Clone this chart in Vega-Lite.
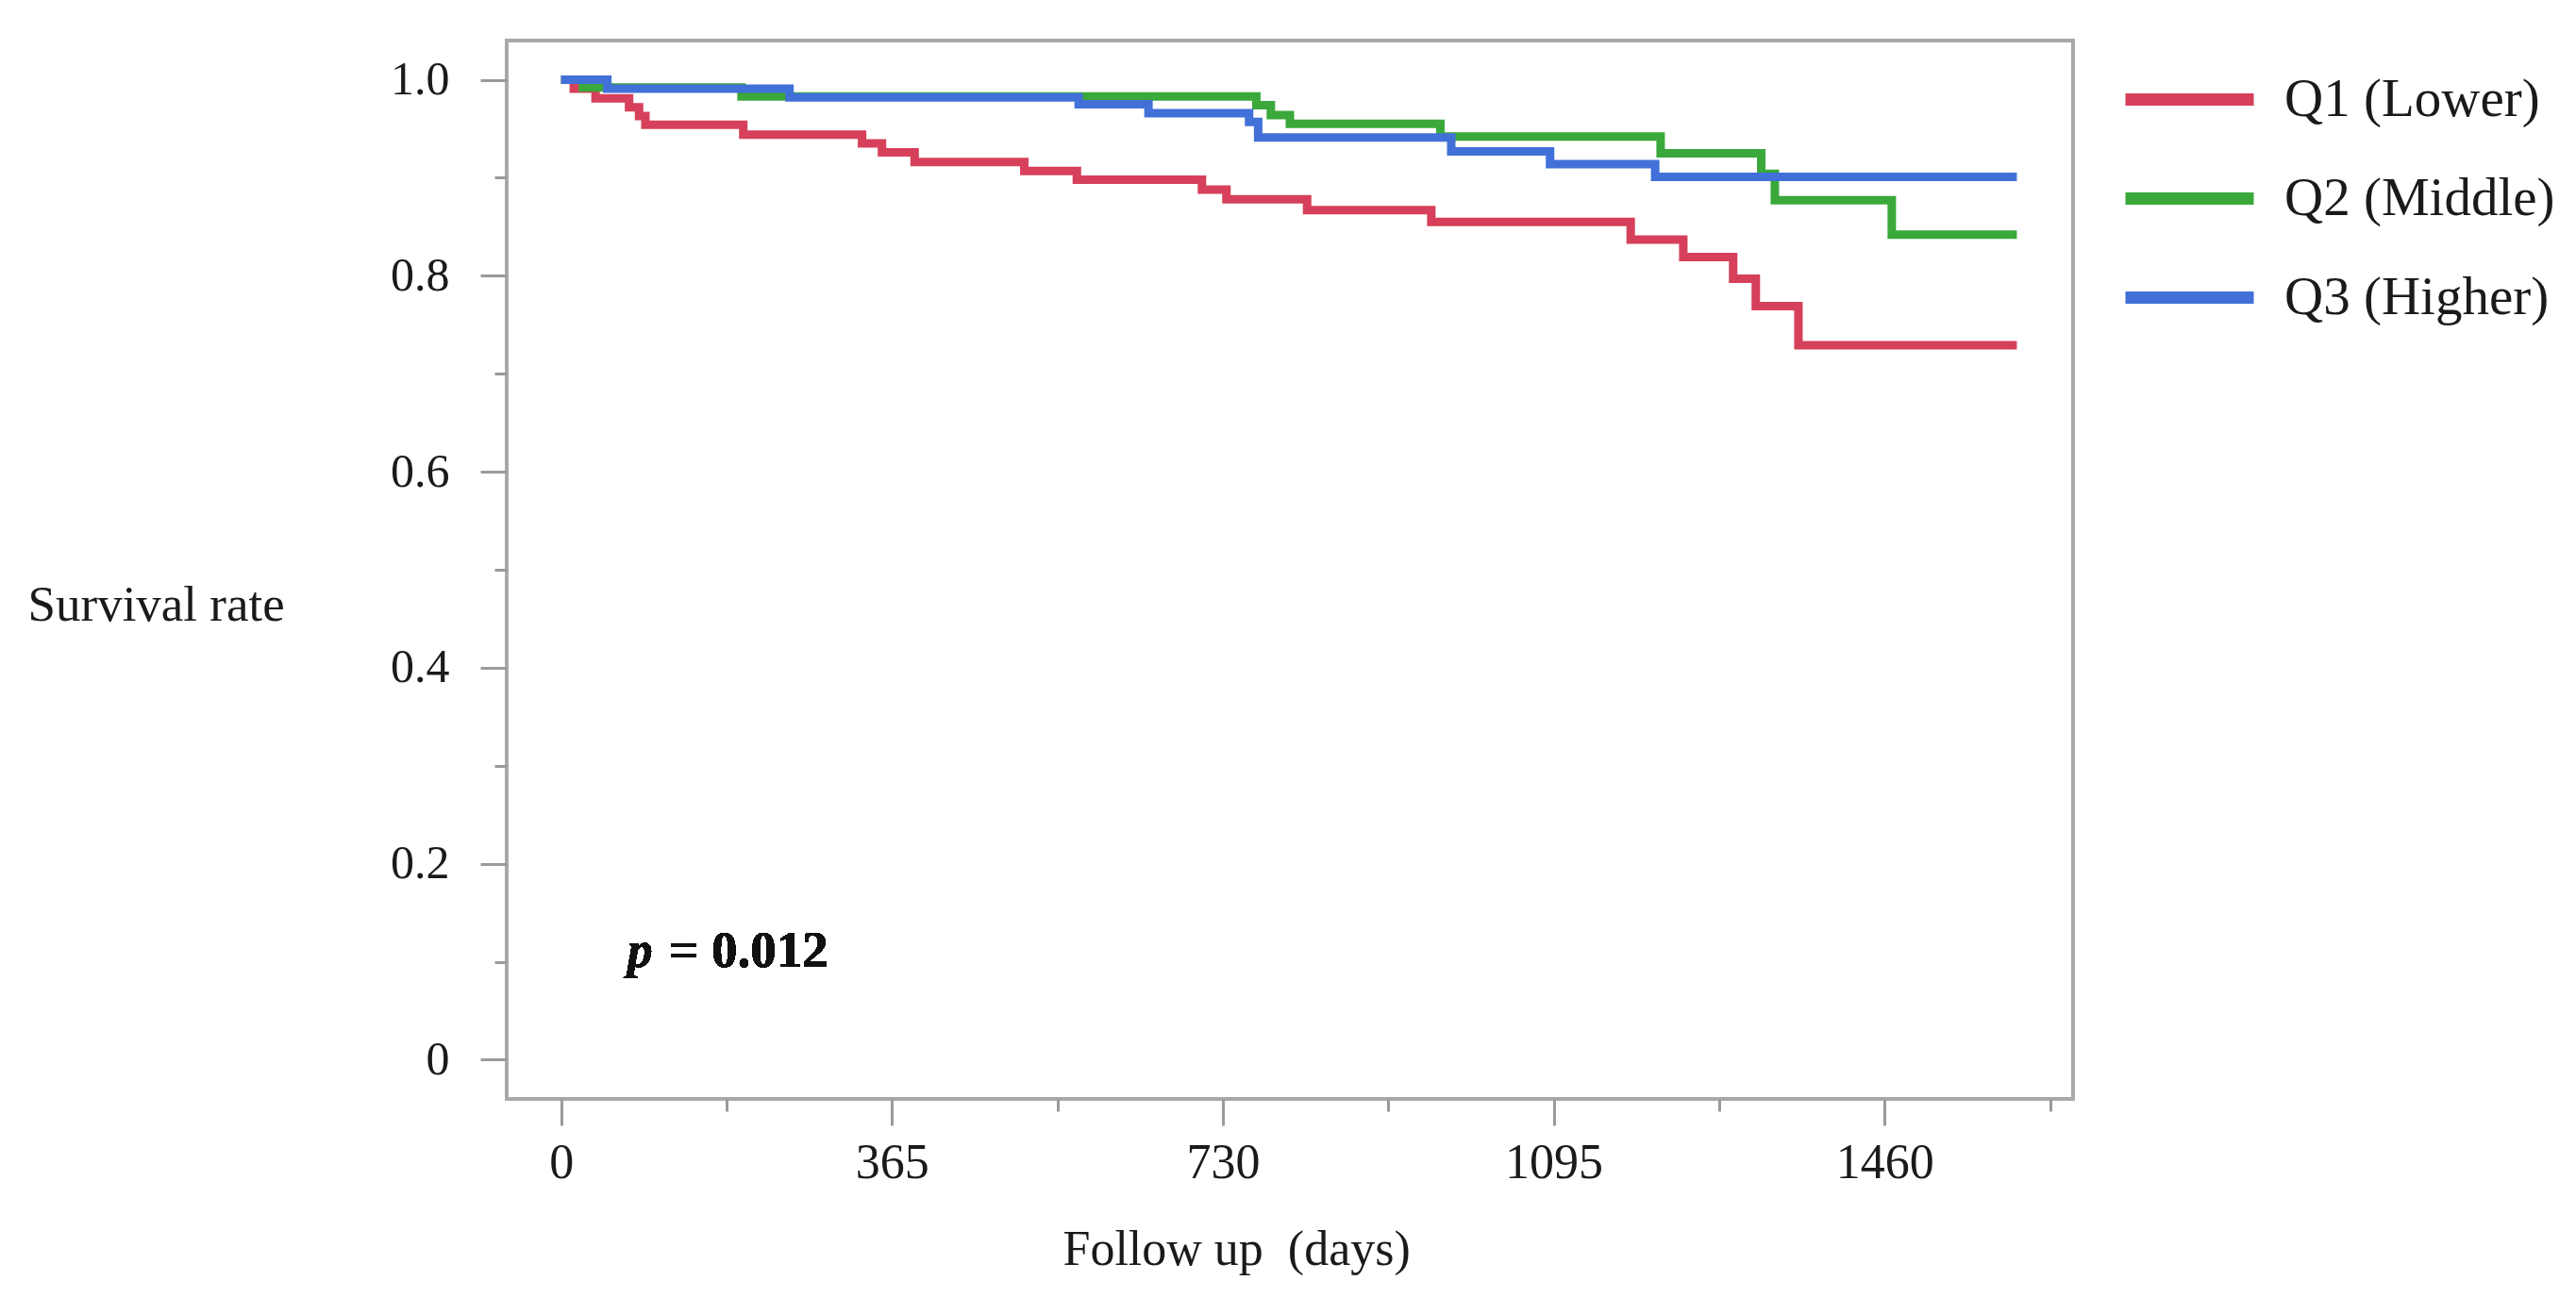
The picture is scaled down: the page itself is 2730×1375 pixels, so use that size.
{
  "$schema": "https://vega.github.io/schema/vega-lite/v6.json",
  "width": 1660,
  "height": 1122,
  "autosize": {"type": "none"},
  "padding": {"left": 537, "top": 43, "right": 533, "bottom": 210},
  "background": "white",
  "config": {
    "view": {"stroke": "#a8a8a8", "strokeWidth": 4},
    "font": "Liberation Serif"
  },
  "data": {
    "values": [
      {"group": "Q1 (Lower)", "day": 0, "surv": 1.0},
      {"group": "Q1 (Lower)", "day": 14, "surv": 0.991},
      {"group": "Q1 (Lower)", "day": 38, "surv": 0.981},
      {"group": "Q1 (Lower)", "day": 75, "surv": 0.972},
      {"group": "Q1 (Lower)", "day": 86, "surv": 0.963},
      {"group": "Q1 (Lower)", "day": 93, "surv": 0.954},
      {"group": "Q1 (Lower)", "day": 201, "surv": 0.944},
      {"group": "Q1 (Lower)", "day": 332, "surv": 0.935},
      {"group": "Q1 (Lower)", "day": 354, "surv": 0.926},
      {"group": "Q1 (Lower)", "day": 390, "surv": 0.916},
      {"group": "Q1 (Lower)", "day": 511, "surv": 0.907},
      {"group": "Q1 (Lower)", "day": 569, "surv": 0.898},
      {"group": "Q1 (Lower)", "day": 707, "surv": 0.888},
      {"group": "Q1 (Lower)", "day": 734, "surv": 0.878},
      {"group": "Q1 (Lower)", "day": 823, "surv": 0.867},
      {"group": "Q1 (Lower)", "day": 960, "surv": 0.855},
      {"group": "Q1 (Lower)", "day": 1180, "surv": 0.837},
      {"group": "Q1 (Lower)", "day": 1238, "surv": 0.819},
      {"group": "Q1 (Lower)", "day": 1293, "surv": 0.797},
      {"group": "Q1 (Lower)", "day": 1318, "surv": 0.769},
      {"group": "Q1 (Lower)", "day": 1365, "surv": 0.729},
      {"group": "Q1 (Lower)", "day": 1606, "surv": 0.729},
      {"group": "Q2 (Middle)", "day": 0, "surv": 1.0},
      {"group": "Q2 (Middle)", "day": 24, "surv": 0.992},
      {"group": "Q2 (Middle)", "day": 199, "surv": 0.983},
      {"group": "Q2 (Middle)", "day": 767, "surv": 0.974},
      {"group": "Q2 (Middle)", "day": 783, "surv": 0.964},
      {"group": "Q2 (Middle)", "day": 804, "surv": 0.955},
      {"group": "Q2 (Middle)", "day": 970, "surv": 0.942},
      {"group": "Q2 (Middle)", "day": 1213, "surv": 0.925},
      {"group": "Q2 (Middle)", "day": 1324, "surv": 0.904},
      {"group": "Q2 (Middle)", "day": 1339, "surv": 0.877},
      {"group": "Q2 (Middle)", "day": 1468, "surv": 0.842},
      {"group": "Q2 (Middle)", "day": 1606, "surv": 0.842},
      {"group": "Q3 (Higher)", "day": 0, "surv": 1.0},
      {"group": "Q3 (Higher)", "day": 51, "surv": 0.991},
      {"group": "Q3 (Higher)", "day": 252, "surv": 0.982},
      {"group": "Q3 (Higher)", "day": 571, "surv": 0.975},
      {"group": "Q3 (Higher)", "day": 648, "surv": 0.966},
      {"group": "Q3 (Higher)", "day": 759, "surv": 0.957},
      {"group": "Q3 (Higher)", "day": 769, "surv": 0.941},
      {"group": "Q3 (Higher)", "day": 982, "surv": 0.927},
      {"group": "Q3 (Higher)", "day": 1091, "surv": 0.914},
      {"group": "Q3 (Higher)", "day": 1207, "surv": 0.901},
      {"group": "Q3 (Higher)", "day": 1606, "surv": 0.901}
    ]
  },
  "layer": [
    {
      "mark": {"type": "line", "interpolate": "step-after", "strokeWidth": 9, "strokeCap": "butt"},
      "encoding": {
        "x": {
          "field": "day",
          "type": "quantitative",
          "scale": {"domain": [-60, 1668], "nice": false, "zero": false},
          "axis": {
            "title": "Follow up\u00a0 (days)",
            "titleFont": "Liberation Serif",
            "titleFontSize": 52,
            "titleFontWeight": "normal",
            "titleColor": "#1a1a1a",
            "titleAlign": "left",
            "titleBaseline": "alphabetic",
            "titleX": 589,
            "titleY": 175,
            "values": [0, 182.5, 365, 547.5, 730, 912.5, 1095, 1277.5, 1460, 1642.5],
            "format": "d",
            "labelExpr": "datum.value % 365 == 0 ? datum.label : ''",
            "labelFont": "Liberation Serif",
            "labelFontSize": 52,
            "labelColor": "#1a1a1a",
            "labelPadding": 14,
            "labelOverlap": false,
            "labelBound": false,
            "labelFlush": false,
            "domain": false,
            "grid": false,
            "ticks": true,
            "tickColor": "#9a9a9a",
            "tickWidth": 3,
            "tickSize": {"condition": {"test": "datum.value % 365 == 0", "value": 28}, "value": 13}
          }
        },
        "y": {
          "field": "surv",
          "type": "quantitative",
          "scale": {"domain": [-0.04, 1.04], "nice": false, "zero": false},
          "axis": {
            "title": "Survival rate",
            "titleFont": "Liberation Serif",
            "titleFontSize": 53,
            "titleFontWeight": "normal",
            "titleColor": "#1a1a1a",
            "titleAngle": 0,
            "titleAlign": "left",
            "titleBaseline": "middle",
            "titleX": -508,
            "titleY": 598,
            "values": [0, 0.1, 0.2, 0.3, 0.4, 0.5, 0.6, 0.7, 0.8, 0.9, 1.0],
            "labelExpr": "datum.value == 0 ? '0' : (round(datum.value * 10) % 2 == 0 ? format(datum.value, '.1f') : '')",
            "labelFont": "Liberation Serif",
            "labelFontSize": 50,
            "labelColor": "#1a1a1a",
            "labelPadding": 33,
            "labelOverlap": false,
            "labelBound": false,
            "labelFlush": false,
            "domain": false,
            "grid": false,
            "ticks": true,
            "tickColor": "#9a9a9a",
            "tickWidth": 3,
            "tickSize": {"condition": {"test": "round(datum.value * 10) % 2 == 0", "value": 28}, "value": 13}
          }
        },
        "color": {
          "field": "group",
          "type": "nominal",
          "scale": {
            "domain": ["Q1 (Lower)", "Q2 (Middle)", "Q3 (Higher)"],
            "range": ["#d6405a", "#3aa83a", "#4170d8"]
          },
          "legend": {
            "title": null,
            "orient": "none",
            "legendX": 1709,
            "legendY": -12,
            "symbolType": "stroke",
            "symbolSize": 18496,
            "symbolStrokeWidth": 13,
            "labelFont": "Liberation Serif",
            "labelFontSize": 57,
            "labelColor": "#1a1a1a",
            "labelOffset": 26,
            "labelLimit": 0,
            "rowPadding": 2
          }
        }
      }
    },
    {
      "mark": {"type": "text", "text": "p", "font": "Liberation Serif", "fontSize": 54, "fontStyle": "italic", "fontWeight": "bold", "align": "left", "baseline": "alphabetic", "color": "#111111"},
      "encoding": {"x": {"datum": 73}, "y": {"datum": 0.095}}
    },
    {
      "mark": {"type": "text", "text": "= 0.012", "font": "Liberation Serif", "fontSize": 55, "fontWeight": "bold", "align": "left", "baseline": "alphabetic", "color": "#111111"},
      "encoding": {"x": {"datum": 119}, "y": {"datum": 0.095}}
    }
  ]
}
